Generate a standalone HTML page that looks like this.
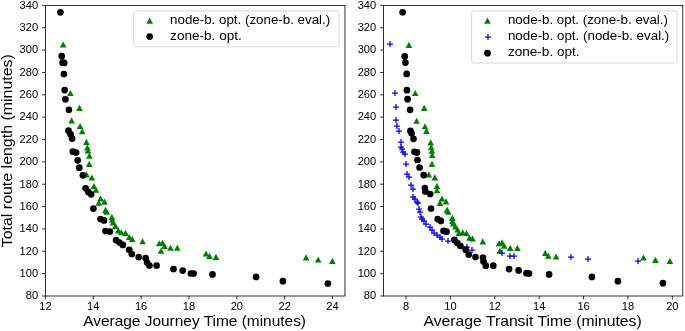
<!DOCTYPE html>
<html><head><meta charset="utf-8"><title>Route length vs travel time</title>
<style>html,body{margin:0;padding:0;background:#fff;width:685px;height:331px;overflow:hidden}svg{display:block;will-change:transform}text{font-family:"Liberation Sans",sans-serif}</style>
</head><body>
<svg width="685" height="331" viewBox="0 0 685 331" font-family="Liberation Sans, sans-serif"><rect width="685" height="331" fill="#fff"/><g fill="#008000"><path d="M63.1 41.35L59.8 47.5H66.4Z"/><path d="M70.4 89.95L67.1 96.1H73.7Z"/><path d="M79.5 104.75L76.2 110.9H82.8Z"/><path d="M71.6 117.25L68.3 123.4H74.9Z"/><path d="M80.1 122.95L76.8 129.1H83.4Z"/><path d="M82.2 128.15L78.9 134.3H85.5Z"/><path d="M86.4 138.85L83.1 145H89.7Z"/><path d="M87.4 144.25L84.1 150.4H90.7Z"/><path d="M88 147.25L84.7 153.4H91.3Z"/><path d="M89.3 152.65L86 158.8H92.6Z"/><path d="M89.2 160.85L85.9 167H92.5Z"/><path d="M86.5 171.45L83.2 177.6H89.8Z"/><path d="M91.8 174.45L88.5 180.6H95.1Z"/><path d="M93.9 182.95L90.6 189.1H97.2Z"/><path d="M95.8 186.55L92.5 192.7H99.1Z"/><path d="M100.5 195.25L97.2 201.4H103.8Z"/><path d="M98.8 199.65L95.5 205.8H102.1Z"/><path d="M104.4 198.55L101.1 204.7H107.7Z"/><path d="M105.5 206.75L102.2 212.9H108.8Z"/><path d="M106.7 208.65L103.4 214.8H110Z"/><path d="M111.9 213.85L108.6 220H115.2Z"/><path d="M112.3 216.65L109 222.8H115.6Z"/><path d="M113 219.35L109.7 225.5H116.3Z"/><path d="M115.5 222.85L112.2 229H118.8Z"/><path d="M118.3 227.35L115 233.5H121.6Z"/><path d="M121.3 229.15L118 235.3H124.6Z"/><path d="M125.5 229.75L122.2 235.9H128.8Z"/><path d="M129.2 233.95L125.9 240.1H132.5Z"/><path d="M132.2 235.75L128.9 241.9H135.5Z"/><path d="M142.6 238.15L139.3 244.3H145.9Z"/><path d="M159.2 240.15L155.9 246.3H162.5Z"/><path d="M162.5 239.65L159.2 245.8H165.8Z"/><path d="M164.5 242.75L161.2 248.9H167.8Z"/><path d="M161 247.65L157.7 253.8H164.3Z"/><path d="M170.5 244.65L167.2 250.8H173.8Z"/><path d="M177.3 244.65L174 250.8H180.6Z"/><path d="M206 250.45L202.7 256.6H209.3Z"/><path d="M209.5 252.75L206.2 258.9H212.8Z"/><path d="M216 253.75L212.7 259.9H219.3Z"/><path d="M306.1 254.35L302.8 260.5H309.4Z"/><path d="M318.2 256.45L314.9 262.6H321.5Z"/><path d="M332.3 257.75L329 263.9H335.6Z"/></g><g fill="#000000"><circle cx="60.4" cy="12.3" r="3.35"/><circle cx="61.7" cy="56.2" r="3.35"/><circle cx="62.6" cy="62.7" r="3.35"/><circle cx="64.2" cy="62.9" r="3.35"/><circle cx="63.9" cy="74" r="3.35"/><circle cx="64.65" cy="90.1" r="3.35"/><circle cx="65.4" cy="99.3" r="3.35"/><circle cx="68.9" cy="109.8" r="3.35"/><circle cx="68.5" cy="130.7" r="3.35"/><circle cx="70.6" cy="134.3" r="3.35"/><circle cx="72.1" cy="138.6" r="3.35"/><circle cx="72.85" cy="151.65" r="3.35"/><circle cx="76.1" cy="152.5" r="3.35"/><circle cx="77.7" cy="160.3" r="3.35"/><circle cx="79.3" cy="167.7" r="3.35"/><circle cx="82.9" cy="175.3" r="3.35"/><circle cx="85.6" cy="188.3" r="3.35"/><circle cx="88.3" cy="191.9" r="3.35"/><circle cx="91.1" cy="194.3" r="3.35"/><circle cx="93.4" cy="208.6" r="3.35"/><circle cx="100.5" cy="219" r="3.35"/><circle cx="104" cy="220.4" r="3.35"/><circle cx="105.5" cy="231" r="3.35"/><circle cx="109.9" cy="231.6" r="3.35"/><circle cx="116.1" cy="240.1" r="3.35"/><circle cx="119.5" cy="242.5" r="3.35"/><circle cx="122.9" cy="244.9" r="3.35"/><circle cx="129.2" cy="249.8" r="3.35"/><circle cx="131.8" cy="254" r="3.35"/><circle cx="138.7" cy="257.1" r="3.35"/><circle cx="145.6" cy="258" r="3.35"/><circle cx="147.1" cy="262.5" r="3.35"/><circle cx="149.4" cy="265.5" r="3.35"/><circle cx="156.6" cy="265.5" r="3.35"/><circle cx="173.5" cy="269" r="3.35"/><circle cx="182.7" cy="270.6" r="3.35"/><circle cx="190.9" cy="273.5" r="3.35"/><circle cx="193.6" cy="273.5" r="3.35"/><circle cx="212.5" cy="274.4" r="3.35"/><circle cx="256.1" cy="276.9" r="3.35"/><circle cx="282.9" cy="281.2" r="3.35"/><circle cx="327.9" cy="283.5" r="3.35"/></g><g fill="#008000"><path d="M408.9 41.75L405.6 47.9H412.2Z"/><path d="M415.2 89.95L411.9 96.1H418.5Z"/><path d="M424.2 104.75L420.9 110.9H427.5Z"/><path d="M416.6 117.65L413.3 123.8H419.9Z"/><path d="M425 123.15L421.7 129.3H428.3Z"/><path d="M426.5 127.75L423.2 133.9H429.8Z"/><path d="M430.7 139.35L427.4 145.5H434Z"/><path d="M431.2 144.05L427.9 150.2H434.5Z"/><path d="M431.9 147.65L428.6 153.8H435.2Z"/><path d="M432.2 151.85L428.9 158H435.5Z"/><path d="M432 160.85L428.7 167H435.3Z"/><path d="M428.8 171.35L425.5 177.5H432.1Z"/><path d="M434.8 174.35L431.5 180.5H438.1Z"/><path d="M437 182.85L433.7 189H440.3Z"/><path d="M437 187.05L433.7 193.2H440.3Z"/><path d="M442 195.45L438.7 201.6H445.3Z"/><path d="M440 199.75L436.7 205.9H443.3Z"/><path d="M446 198.35L442.7 204.5H449.3Z"/><path d="M447 206.85L443.7 213H450.3Z"/><path d="M448.2 208.65L444.9 214.8H451.5Z"/><path d="M452.3 214.85L449 221H455.6Z"/><path d="M452.5 217.85L449.2 224H455.8Z"/><path d="M453.2 220.45L449.9 226.6H456.5Z"/><path d="M455.4 223.35L452.1 229.5H458.7Z"/><path d="M457.6 226.45L454.3 232.6H460.9Z"/><path d="M458.9 229.95L455.6 236.1H462.2Z"/><path d="M462.7 229.25L459.4 235.4H466Z"/><path d="M466.4 229.95L463.1 236.1H469.7Z"/><path d="M469.5 234.55L466.2 240.7H472.8Z"/><path d="M472.5 235.25L469.2 241.4H475.8Z"/><path d="M482.8 238.35L479.5 244.5H486.1Z"/><path d="M499.1 240.15L495.8 246.3H502.4Z"/><path d="M502.1 239.35L498.8 245.5H505.4Z"/><path d="M504.1 242.65L500.8 248.8H507.4Z"/><path d="M499.9 247.65L496.6 253.8H503.2Z"/><path d="M510.2 244.85L506.9 251H513.5Z"/><path d="M517.4 244.85L514.1 251H520.7Z"/><path d="M545.3 249.85L542 256H548.6Z"/><path d="M548.3 252.65L545 258.8H551.6Z"/><path d="M556.1 253.45L552.8 259.6H559.4Z"/><path d="M643.5 254.45L640.2 260.6H646.8Z"/><path d="M655.4 256.75L652.1 262.9H658.7Z"/><path d="M669.9 257.95L666.6 264.1H673.2Z"/></g><g stroke="#0000ff" stroke-width="1.25" fill="none"><path d="M387.05 44H392.95M390 41.05V46.95"/><path d="M392.05 93H397.95M395 90.05V95.95"/><path d="M393.05 107H398.95M396 104.05V109.95"/><path d="M393.05 120H398.95M396 117.05V122.95"/><path d="M394.05 126H399.95M397 123.05V128.95"/><path d="M396.05 131H401.95M399 128.05V133.95"/><path d="M398.05 142H403.95M401 139.05V144.95"/><path d="M398.05 147H403.95M401 144.05V149.95"/><path d="M399.05 149H404.95M402 146.05V151.95"/><path d="M400.05 152H405.95M403 149.05V154.95"/><path d="M402.05 154H407.95M405 151.05V156.95"/><path d="M403.05 164H408.95M406 161.05V166.95"/><path d="M404.05 174H409.95M407 171.05V176.95"/><path d="M406.05 177H411.95M409 174.05V179.95"/><path d="M408.05 185H413.95M411 182.05V187.95"/><path d="M410.05 189H415.95M413 186.05V191.95"/><path d="M410.05 197H415.95M413 194.05V199.95"/><path d="M412.05 199H417.95M415 196.05V201.95"/><path d="M414.05 202H419.95M417 199.05V204.95"/><path d="M415.05 203H420.95M418 200.05V205.95"/><path d="M416.05 209H421.95M419 206.05V211.95"/><path d="M417.05 212H422.95M420 209.05V214.95"/><path d="M418.05 217H423.95M421 214.05V219.95"/><path d="M419.05 219H424.95M422 216.05V221.95"/><path d="M421.05 221H426.95M424 218.05V223.95"/><path d="M423.05 224H428.95M426 221.05V226.95"/><path d="M427.05 227H432.95M430 224.05V229.95"/><path d="M429.05 230H434.95M432 227.05V232.95"/><path d="M431.05 233H436.95M434 230.05V235.95"/><path d="M434.05 235H439.95M437 232.05V237.95"/><path d="M437.05 237H442.95M440 234.05V239.95"/><path d="M439.05 239H444.95M442 236.05V241.95"/><path d="M445.05 241H450.95M448 238.05V243.95"/><path d="M464.05 247H469.95M467 244.05V249.95"/><path d="M469.05 250H474.95M472 247.05V252.95"/><path d="M499.05 253H504.95M502 250.05V255.95"/><path d="M507.05 256H512.95M510 253.05V258.95"/><path d="M511.05 256H516.95M514 253.05V258.95"/><path d="M568.05 257H573.95M571 254.05V259.95"/><path d="M585.05 259H590.95M588 256.05V261.95"/><path d="M635.05 261H640.95M638 258.05V263.95"/></g><g fill="#000000"><circle cx="402.6" cy="12.25" r="3.35"/><circle cx="404.7" cy="56.4" r="3.35"/><circle cx="405.4" cy="62.6" r="3.35"/><circle cx="406.7" cy="73.9" r="3.35"/><circle cx="406.9" cy="90.2" r="3.35"/><circle cx="407.6" cy="99.2" r="3.35"/><circle cx="410.1" cy="109.8" r="3.35"/><circle cx="410.4" cy="130.9" r="3.35"/><circle cx="411.6" cy="133.3" r="3.35"/><circle cx="413.5" cy="138.8" r="3.35"/><circle cx="414.5" cy="151.8" r="3.35"/><circle cx="417" cy="152.4" r="3.35"/><circle cx="417.5" cy="160" r="3.35"/><circle cx="419.6" cy="167.5" r="3.35"/><circle cx="423.7" cy="175.1" r="3.35"/><circle cx="424.9" cy="188" r="3.35"/><circle cx="425.4" cy="191.5" r="3.35"/><circle cx="430.2" cy="194" r="3.35"/><circle cx="431" cy="208.5" r="3.35"/><circle cx="437.7" cy="219.1" r="3.35"/><circle cx="440.9" cy="220.9" r="3.35"/><circle cx="443.5" cy="230.9" r="3.35"/><circle cx="446.5" cy="231.7" r="3.35"/><circle cx="454.4" cy="239.9" r="3.35"/><circle cx="457.4" cy="243" r="3.35"/><circle cx="460.4" cy="246" r="3.35"/><circle cx="465.7" cy="249.7" r="3.35"/><circle cx="468.7" cy="254.6" r="3.35"/><circle cx="475.5" cy="257" r="3.35"/><circle cx="483" cy="257.6" r="3.35"/><circle cx="483.5" cy="261.6" r="3.35"/><circle cx="485.8" cy="265.7" r="3.35"/><circle cx="493.3" cy="265.7" r="3.35"/><circle cx="509.1" cy="269.1" r="3.35"/><circle cx="518.6" cy="270.4" r="3.35"/><circle cx="526.5" cy="273.2" r="3.35"/><circle cx="529" cy="273.6" r="3.35"/><circle cx="549.1" cy="274.4" r="3.35"/><circle cx="591.9" cy="276.9" r="3.35"/><circle cx="617.9" cy="281.2" r="3.35"/><circle cx="662.9" cy="283.2" r="3.35"/></g><rect x="45.4" y="5.4" width="299.55" height="290.6" fill="none" stroke="#000" stroke-width="0.8"/><path d="M42 296H45.4M42 273.65H45.4M42 251.29H45.4M42 228.94H45.4M42 206.58H45.4M42 184.23H45.4M42 161.88H45.4M42 139.52H45.4M42 117.17H45.4M42 94.82H45.4M42 72.46H45.4M42 50.11H45.4M42 27.75H45.4M42 5.4H45.4M45.4 296.0V299.4M93.26 296.0V299.4M141.12 296.0V299.4M188.98 296.0V299.4M236.84 296.0V299.4M284.7 296.0V299.4M332.56 296.0V299.4" stroke="#000" stroke-width="0.8" fill="none"/><g font-size="10.2" fill="#000"><text x="38.1" y="299.3" text-anchor="end" textLength="12.34" lengthAdjust="spacingAndGlyphs">80</text><text x="38.1" y="276.95" text-anchor="end" textLength="18.51" lengthAdjust="spacingAndGlyphs">100</text><text x="38.1" y="254.59" text-anchor="end" textLength="18.51" lengthAdjust="spacingAndGlyphs">120</text><text x="38.1" y="232.24" text-anchor="end" textLength="18.51" lengthAdjust="spacingAndGlyphs">140</text><text x="38.1" y="209.88" text-anchor="end" textLength="18.51" lengthAdjust="spacingAndGlyphs">160</text><text x="38.1" y="187.53" text-anchor="end" textLength="18.51" lengthAdjust="spacingAndGlyphs">180</text><text x="38.1" y="165.18" text-anchor="end" textLength="18.51" lengthAdjust="spacingAndGlyphs">200</text><text x="38.1" y="142.82" text-anchor="end" textLength="18.51" lengthAdjust="spacingAndGlyphs">220</text><text x="38.1" y="120.47" text-anchor="end" textLength="18.51" lengthAdjust="spacingAndGlyphs">240</text><text x="38.1" y="98.12" text-anchor="end" textLength="18.51" lengthAdjust="spacingAndGlyphs">260</text><text x="38.1" y="75.76" text-anchor="end" textLength="18.51" lengthAdjust="spacingAndGlyphs">280</text><text x="38.1" y="53.41" text-anchor="end" textLength="18.51" lengthAdjust="spacingAndGlyphs">300</text><text x="38.1" y="31.05" text-anchor="end" textLength="18.51" lengthAdjust="spacingAndGlyphs">320</text><text x="38.1" y="8.7" text-anchor="end" textLength="18.51" lengthAdjust="spacingAndGlyphs">340</text><text x="45.4" y="309.7" text-anchor="middle" textLength="12.34" lengthAdjust="spacingAndGlyphs">12</text><text x="93.26" y="309.7" text-anchor="middle" textLength="12.34" lengthAdjust="spacingAndGlyphs">14</text><text x="141.12" y="309.7" text-anchor="middle" textLength="12.34" lengthAdjust="spacingAndGlyphs">16</text><text x="188.98" y="309.7" text-anchor="middle" textLength="12.34" lengthAdjust="spacingAndGlyphs">18</text><text x="236.84" y="309.7" text-anchor="middle" textLength="12.34" lengthAdjust="spacingAndGlyphs">20</text><text x="284.7" y="309.7" text-anchor="middle" textLength="12.34" lengthAdjust="spacingAndGlyphs">22</text><text x="332.56" y="309.7" text-anchor="middle" textLength="12.34" lengthAdjust="spacingAndGlyphs">24</text></g><rect x="383.5" y="5.4" width="299.3" height="290.6" fill="none" stroke="#000" stroke-width="0.8"/><path d="M380.1 296H383.5M380.1 273.65H383.5M380.1 251.29H383.5M380.1 228.94H383.5M380.1 206.58H383.5M380.1 184.23H383.5M380.1 161.88H383.5M380.1 139.52H383.5M380.1 117.17H383.5M380.1 94.82H383.5M380.1 72.46H383.5M380.1 50.11H383.5M380.1 27.75H383.5M380.1 5.4H383.5M406.06 296.0V299.4M450.44 296.0V299.4M494.82 296.0V299.4M539.2 296.0V299.4M583.58 296.0V299.4M627.96 296.0V299.4M672.34 296.0V299.4" stroke="#000" stroke-width="0.8" fill="none"/><g font-size="10.2" fill="#000"><text x="376.2" y="299.3" text-anchor="end" textLength="12.34" lengthAdjust="spacingAndGlyphs">80</text><text x="376.2" y="276.95" text-anchor="end" textLength="18.51" lengthAdjust="spacingAndGlyphs">100</text><text x="376.2" y="254.59" text-anchor="end" textLength="18.51" lengthAdjust="spacingAndGlyphs">120</text><text x="376.2" y="232.24" text-anchor="end" textLength="18.51" lengthAdjust="spacingAndGlyphs">140</text><text x="376.2" y="209.88" text-anchor="end" textLength="18.51" lengthAdjust="spacingAndGlyphs">160</text><text x="376.2" y="187.53" text-anchor="end" textLength="18.51" lengthAdjust="spacingAndGlyphs">180</text><text x="376.2" y="165.18" text-anchor="end" textLength="18.51" lengthAdjust="spacingAndGlyphs">200</text><text x="376.2" y="142.82" text-anchor="end" textLength="18.51" lengthAdjust="spacingAndGlyphs">220</text><text x="376.2" y="120.47" text-anchor="end" textLength="18.51" lengthAdjust="spacingAndGlyphs">240</text><text x="376.2" y="98.12" text-anchor="end" textLength="18.51" lengthAdjust="spacingAndGlyphs">260</text><text x="376.2" y="75.76" text-anchor="end" textLength="18.51" lengthAdjust="spacingAndGlyphs">280</text><text x="376.2" y="53.41" text-anchor="end" textLength="18.51" lengthAdjust="spacingAndGlyphs">300</text><text x="376.2" y="31.05" text-anchor="end" textLength="18.51" lengthAdjust="spacingAndGlyphs">320</text><text x="376.2" y="8.7" text-anchor="end" textLength="18.51" lengthAdjust="spacingAndGlyphs">340</text><text x="406.06" y="309.7" text-anchor="middle" textLength="6.17" lengthAdjust="spacingAndGlyphs">8</text><text x="450.44" y="309.7" text-anchor="middle" textLength="12.34" lengthAdjust="spacingAndGlyphs">10</text><text x="494.82" y="309.7" text-anchor="middle" textLength="12.34" lengthAdjust="spacingAndGlyphs">12</text><text x="539.2" y="309.7" text-anchor="middle" textLength="12.34" lengthAdjust="spacingAndGlyphs">14</text><text x="583.58" y="309.7" text-anchor="middle" textLength="12.34" lengthAdjust="spacingAndGlyphs">16</text><text x="627.96" y="309.7" text-anchor="middle" textLength="12.34" lengthAdjust="spacingAndGlyphs">18</text><text x="672.34" y="309.7" text-anchor="middle" textLength="12.34" lengthAdjust="spacingAndGlyphs">20</text></g><rect x="133.8" y="10.9" width="205.3" height="35.9" rx="2.3" fill="#fff" fill-opacity="0.8" stroke="#ccc" stroke-opacity="0.8" stroke-width="0.97"/><g fill="#008000"><path d="M149.7 17.55L146.4 23.7H153Z"/></g><text x="170.1" y="24.0" font-size="12.3" textLength="160.1" lengthAdjust="spacingAndGlyphs" fill="#000">node-b. opt. (zone-b. eval.)</text><g fill="#000000"><circle cx="149.7" cy="36.6" r="3.35"/></g><text x="170.1" y="39.9" font-size="12.3" textLength="71.68" lengthAdjust="spacingAndGlyphs" fill="#000">zone-b. opt.</text><rect x="471.6" y="10.9" width="205.5" height="52.1" rx="2.3" fill="#fff" fill-opacity="0.8" stroke="#ccc" stroke-opacity="0.8" stroke-width="0.97"/><g fill="#008000"><path d="M487.5 17.55L484.2 23.7H490.8Z"/></g><text x="507.9" y="24.0" font-size="12.3" textLength="160.1" lengthAdjust="spacingAndGlyphs" fill="#000">node-b. opt. (zone-b. eval.)</text><g stroke="#0000ff" stroke-width="1.25" fill="none"><path d="M485.05 37H490.95M488 34.05V39.95"/></g><text x="507.9" y="39.9" font-size="12.3" textLength="161.4" lengthAdjust="spacingAndGlyphs" fill="#000">node-b. opt. (node-b. eval.)</text><g fill="#000000"><circle cx="487.5" cy="53.2" r="3.35"/></g><text x="507.9" y="55.9" font-size="12.3" textLength="71.68" lengthAdjust="spacingAndGlyphs" fill="#000">zone-b. opt.</text><text x="194.6" y="326.3" text-anchor="middle" font-size="14.2" textLength="222.81" lengthAdjust="spacingAndGlyphs">Average Journey Time (minutes)</text><text x="532.6" y="326.3" text-anchor="middle" font-size="14.2" textLength="218.13" lengthAdjust="spacingAndGlyphs">Average Transit Time (minutes)</text><text x="12.3" y="150.7" text-anchor="middle" font-size="14.2" textLength="193.16" lengthAdjust="spacingAndGlyphs" transform="rotate(-90 12.3 150.7)">Total route length (minutes)</text></svg>
</body></html>
